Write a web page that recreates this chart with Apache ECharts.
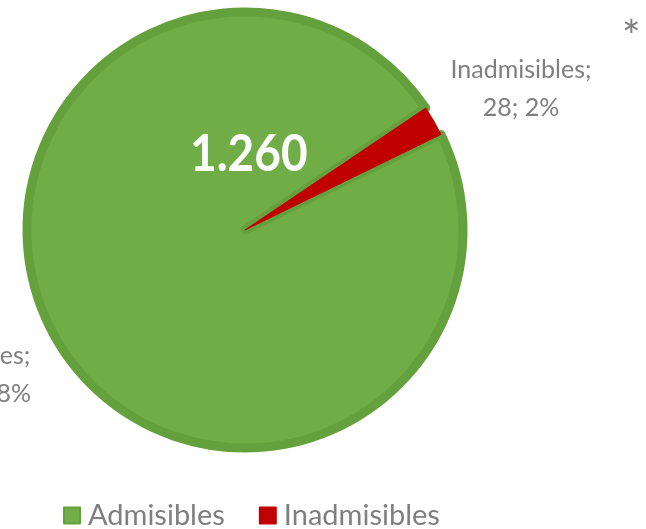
<!DOCTYPE html>
<html>
<head>
<meta charset="utf-8">
<script src="https://cdn.jsdelivr.net/npm/echarts@6/dist/echarts.min.js"></script>
<style>
  html, body { margin: 0; padding: 0; background: #fff; }
  #main { width: 646px; height: 529px; }
</style>
</head>
<body>
<div id="main"></div>
<script>
var categories = ['Admisibles', 'Inadmisibles'];
var values = [1232, 28];
var colors = ['#70ad47', '#c00000'];
var borders = ['#64a13c', '#c00000'];
// where each outside label sits (centre of the text block)
var labelSpots = [[-32, 375], [521, 89]];

function fmt(n) {
    return String(n).replace(/\B(?=(\d{3})+(?!\d))/g, '.');
}

var total = values.reduce(function (a, b) { return a + b; }, 0);

var myChart = echarts.init(document.getElementById('main'));

var option = {
    backgroundColor: '#fff',
    animation: false,
    textStyle: { fontFamily: 'Lato' },
    legend: {
        bottom: -6,
        left: 58,
        icon: 'rect',
        itemWidth: 16,
        itemHeight: 16,
        itemGap: 34,
        textStyle: { color: '#7f7f7f', fontSize: 29, fontFamily: 'Lato', padding: [0, 0, 0, 3] },
        data: categories
    },
    graphic: [
        {
            type: 'text',
            x: 190,
            y: 129,
            scaleY: 1.12,
            z: 100,
            style: {
                text: fmt(total),
                fill: '#fff',
                font: 'bold 46px Lato'
            }
        },
        {
            type: 'text',
            left: 622,
            top: 16,
            z: 100,
            style: {
                text: '*',
                fill: '#7f7f7f',
                font: '44px Lato'
            }
        }
    ],
    series: [
        {
            type: 'pie',
            center: [245, 230],
            radius: 218,
            startAngle: 26,
            clockwise: true,
            avoidLabelOverlap: false,
            label: {
                show: true,
                position: 'outside',
                color: '#7f7f7f',
                fontSize: 25,
                fontFamily: 'Lato',
                lineHeight: 38,
                align: 'center',
                formatter: function (p) {
                    return p.name + ';\n' + fmt(p.value) + '; ' + Math.round(p.percent) + '%';
                }
            },
            labelLine: { show: false },
            labelLayout: function (params) {
                var s = labelSpots[params.dataIndex];
                return { x: s[0], y: s[1], align: 'center', verticalAlign: 'middle' };
            },
            data: categories.map(function (c, i) {
                return {
                    name: c,
                    value: values[i],
                    itemStyle: {
                        color: colors[i],
                        borderColor: borders[i],
                        borderWidth: i === 0 ? 9 : 1
                    }
                };
            })
        }
    ]
};
myChart.setOption(option);
</script>
</body>
</html>
